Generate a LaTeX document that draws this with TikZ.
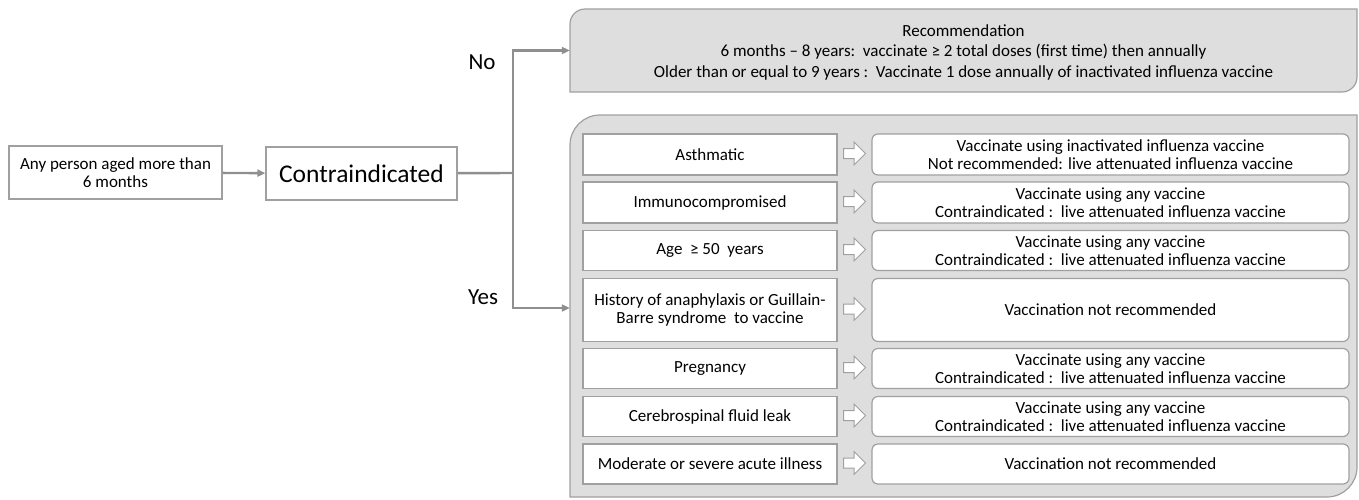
\documentclass[tikz,border=0pt]{standalone}
\usepackage{fontspec}
\setmainfont{Carlito}
\usepackage{xcolor}
\usepackage{tikz}
\usetikzlibrary{arrows.meta}
\usetikzlibrary{shapes.arrows}
\definecolor{linegray}{RGB}{143,143,143}
\definecolor{boxgray}{RGB}{160,160,160}
\definecolor{panelgray}{RGB}{222,222,222}
\tikzstyle{line} = [draw=linegray, line width=2.4pt]
\tikzstyle{conn} = [line, -{Triangle[length=8pt,width=7pt]}]
\tikzstyle{plain} = [draw=boxgray, line width=1.2pt, fill=white, align=center, inner sep=0pt, font=\fontsize{17}{18.5}\selectfont]
\tikzstyle{answer} = [plain, rounded corners=6pt]
\tikzstyle{hollow} = [single arrow, draw=boxgray, fill=white, line width=1pt, minimum height=22pt, inner xsep=0pt, inner ysep=4.5pt, single arrow head extend=6.5pt]

\begin{document}
\begin{tikzpicture}[x=1pt, y=-1pt]
    \useasboundingbox (0,0) rectangle (1359,499);

    % grey boxes (top left and bottom right corners rounded)
    \draw[draw=boxgray, line width=1.2pt, fill=panelgray] (570,92) -- (570,24) arc[start angle=180, end angle=270, radius=15] -- (1357,9) -- (1357,77) arc[start angle=0, end angle=90, radius=15] -- cycle;
    \draw[draw=boxgray, line width=1.2pt, fill=panelgray] (570,497) -- (570,145) arc[start angle=180, end angle=270, radius=30] -- (1357,115) -- (1357,467) arc[start angle=0, end angle=90, radius=30] -- cycle;

    % start and question
    \node[plain, minimum width=213pt, minimum height=53pt] (person) at (115.5,172.5) {Any person aged more than\\6 months};
    \node[plain, minimum width=191pt, minimum height=53pt, font=\fontsize{25.5}{30}\selectfont] (contra) at (361.5,173.5) {Contraindicated};
    \coordinate (split) at (513,173);

    % No branch
    \node[align=center, minimum width=787pt, minimum height=83pt, inner sep=0pt, font=\fontsize{17}{20.5}\selectfont] (rec) at (963.5,52) {Recommendation\\6 months -- 8 years:\ \ vaccinate ≥ 2 total doses (first time) then annually\\Older than or equal to 9 years :\ \ Vaccinate 1 dose annually of inactivated influenza vaccine};
    % Yes branch
    \node[minimum width=787pt, minimum height=382pt, inner sep=0pt] (panel) at (963.5,308) {};

    \draw[conn] (person) -- (contra);
    \draw[line] (contra) -- (split);
    \draw[conn] (split) |- ([yshift=1.5pt]rec.west);
    \draw[conn] (split) |- (panel);
    \node[font=\fontsize{23}{28}\selectfont] (no) at (482,62) {No};
    \node[font=\fontsize{23}{28}\selectfont] (yes) at (483,297) {Yes};

    % conditions and advice
    \foreach \n/\y/\h/\txt/\adv in {
        1/154.5/41/{Asthmatic}/{Vaccinate using inactivated influenza vaccine\\Not recommended: live attenuated influenza vaccine},
        2/202.5/41/{Immunocompromised}/{Vaccinate using any vaccine\\Contraindicated :\ \ live attenuated influenza vaccine},
        3/250.5/40/{Age\ \ ≥ 50\ \ years}/{Vaccinate using any vaccine\\Contraindicated :\ \ live attenuated influenza vaccine},
        4/310/63/{History of anaphylaxis or Guillain-\\Barre syndrome\ \ to vaccine}/{Vaccination not recommended},
        5/368.5/40/{Pregnancy}/{Vaccinate using any vaccine\\Contraindicated :\ \ live attenuated influenza vaccine},
        6/416.5/40/{Cerebrospinal fluid leak}/{Vaccinate using any vaccine\\Contraindicated :\ \ live attenuated influenza vaccine},
        7/464/40/{Moderate or severe acute illness}/{Vaccination not recommended}} {
        \node[plain, minimum width=254pt, minimum height=\h pt] (cond\n) at (710,\y) {\txt};
        \node[answer, minimum width=477pt, minimum height=\h pt] (advice\n) at (1110.5,\y) {\adv};
        \node[hollow] (arrow\n) at (852,\y-1) {};
    }
\end{tikzpicture}
\end{document}
